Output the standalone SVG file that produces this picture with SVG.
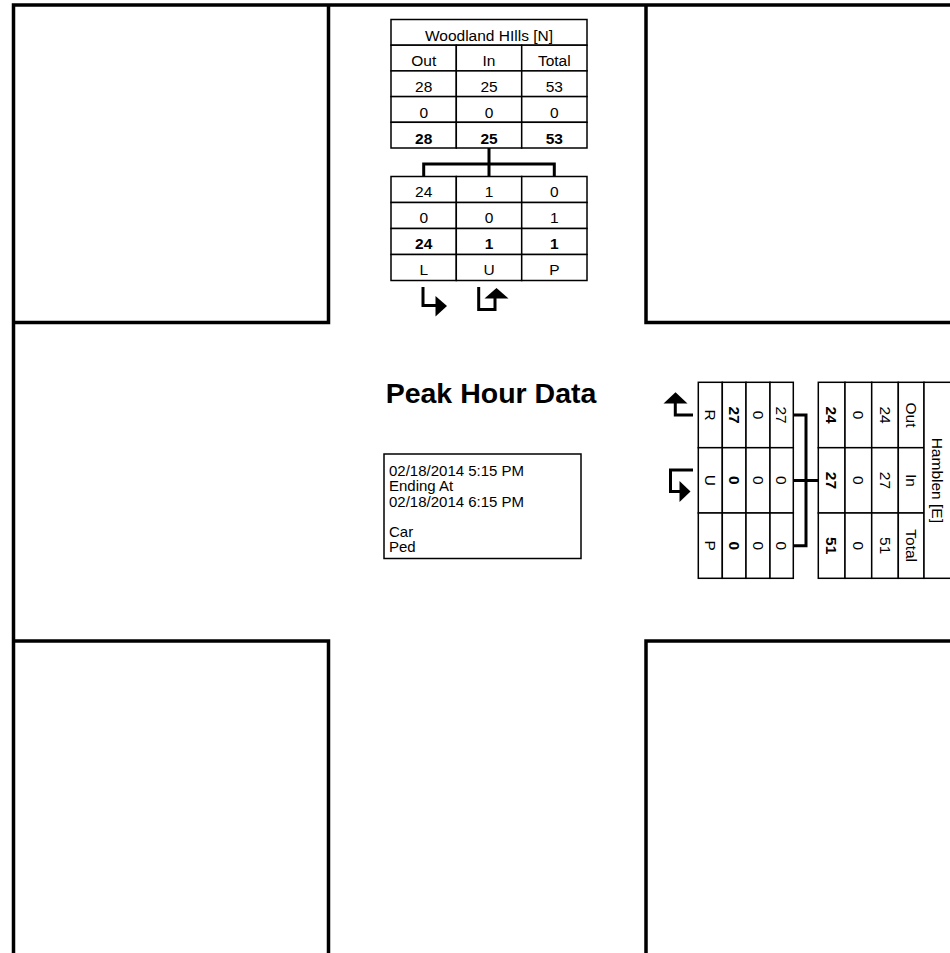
<svg xmlns="http://www.w3.org/2000/svg" width="950" height="953" viewBox="0 0 950 953">
<style>
.frame{fill:none;stroke:#000;stroke-width:3.5}
.cell{fill:#fff;stroke:#000;stroke-width:1.5}
.conn{fill:none;stroke:#000;stroke-width:3}
.t{font-family:"Liberation Sans",Arial,sans-serif;font-size:15.5px;fill:#000;text-anchor:middle}
.b{font-weight:bold}
.info{font-family:"Liberation Sans",Arial,sans-serif;font-size:15px;fill:#000}
.title{font-family:"Liberation Sans",Arial,sans-serif;font-size:28.5px;font-weight:bold;fill:#000;text-anchor:middle}
</style>
<rect width="950" height="953" fill="#fff"/>
<g id="blocks">
<path class="frame" d="M13.5,953 V5 H955" stroke-width="4"/>
<path class="frame" d="M13.5,322.5 H328.5 V5"/>
<path class="frame" d="M646,5 V322.5 H955"/>
<path class="frame" d="M13.5,641 H328.5 V953"/>
<path class="frame" d="M955,641 H646 V953"/>
</g>
<g id="north-approach">
<rect class="cell" x="391" y="19.5" width="196" height="25.7"/>
<g class="cell">
<rect x="391" y="45.2" width="65.3" height="25.7"/><rect x="456.3" y="45.2" width="65.4" height="25.7"/><rect x="521.7" y="45.2" width="65.3" height="25.7"/>
<rect x="391" y="70.9" width="65.3" height="25.7"/><rect x="456.3" y="70.9" width="65.4" height="25.7"/><rect x="521.7" y="70.9" width="65.3" height="25.7"/>
<rect x="391" y="96.6" width="65.3" height="25.7"/><rect x="456.3" y="96.6" width="65.4" height="25.7"/><rect x="521.7" y="96.6" width="65.3" height="25.7"/>
<rect x="391" y="122.3" width="65.3" height="25.7"/><rect x="456.3" y="122.3" width="65.4" height="25.7"/><rect x="521.7" y="122.3" width="65.3" height="25.7"/>
</g>
<text class="t" x="489" y="40.5">Woodland HIlls [N]</text>
<text class="t" x="423.7" y="66">Out</text><text class="t" x="489" y="66">In</text><text class="t" x="554.3" y="66">Total</text>
<text class="t" x="423.7" y="92">28</text><text class="t" x="489" y="92">25</text><text class="t" x="554.3" y="92">53</text>
<text class="t" x="423.7" y="117.5">0</text><text class="t" x="489" y="117.5">0</text><text class="t" x="554.3" y="117.5">0</text>
<text class="t b" x="423.7" y="143.5">28</text><text class="t b" x="489" y="143.5">25</text><text class="t b" x="554.3" y="143.5">53</text>
</g>
<g id="north-movements">
<g class="cell">
<rect x="391" y="176.5" width="65.3" height="26"/><rect x="456.3" y="176.5" width="65.4" height="26"/><rect x="521.7" y="176.5" width="65.3" height="26"/>
<rect x="391" y="202.5" width="65.3" height="26"/><rect x="456.3" y="202.5" width="65.4" height="26"/><rect x="521.7" y="202.5" width="65.3" height="26"/>
<rect x="391" y="228.5" width="65.3" height="26"/><rect x="456.3" y="228.5" width="65.4" height="26"/><rect x="521.7" y="228.5" width="65.3" height="26"/>
<rect x="391" y="254.5" width="65.3" height="26"/><rect x="456.3" y="254.5" width="65.4" height="26"/><rect x="521.7" y="254.5" width="65.3" height="26"/>
</g>
<text class="t" x="423.7" y="197">24</text><text class="t" x="489" y="197">1</text><text class="t" x="554.3" y="197">0</text>
<text class="t" x="423.7" y="223">0</text><text class="t" x="489" y="223">0</text><text class="t" x="554.3" y="223">1</text>
<text class="t b" x="423.7" y="249">24</text><text class="t b" x="489" y="249">1</text><text class="t b" x="554.3" y="249">1</text>
<text class="t" x="423.7" y="275">L</text><text class="t" x="489" y="275">U</text><text class="t" x="554.3" y="275">P</text>
</g>
<g id="east-movements">
<g class="cell">
<rect x="698.3" y="382.3" width="24" height="65.4"/><rect x="722.3" y="382.3" width="23.7" height="65.4"/><rect x="746" y="382.3" width="24" height="65.4"/><rect x="770" y="382.3" width="23.3" height="65.4"/>
<rect x="698.3" y="447.7" width="24" height="65.3"/><rect x="722.3" y="447.7" width="23.7" height="65.3"/><rect x="746" y="447.7" width="24" height="65.3"/><rect x="770" y="447.7" width="23.3" height="65.3"/>
<rect x="698.3" y="513" width="24" height="65.3"/><rect x="722.3" y="513" width="23.7" height="65.3"/><rect x="746" y="513" width="24" height="65.3"/><rect x="770" y="513" width="23.3" height="65.3"/>
</g>
<text class="t" transform="translate(710.3,415) rotate(90)" y="5.5">R</text>
<text class="t b" transform="translate(734.2,415) rotate(90)" y="5.5">27</text>
<text class="t" transform="translate(758,415) rotate(90)" y="5.5">0</text>
<text class="t" transform="translate(781.7,415) rotate(90)" y="5.5">27</text>
<text class="t" transform="translate(710.3,480.4) rotate(90)" y="5.5">U</text>
<text class="t b" transform="translate(734.2,480.4) rotate(90)" y="5.5">0</text>
<text class="t" transform="translate(758,480.4) rotate(90)" y="5.5">0</text>
<text class="t" transform="translate(781.7,480.4) rotate(90)" y="5.5">0</text>
<text class="t" transform="translate(710.3,545.7) rotate(90)" y="5.5">P</text>
<text class="t b" transform="translate(734.2,545.7) rotate(90)" y="5.5">0</text>
<text class="t" transform="translate(758,545.7) rotate(90)" y="5.5">0</text>
<text class="t" transform="translate(781.7,545.7) rotate(90)" y="5.5">0</text>
</g>
<g id="east-approach">
<g class="cell">
<rect x="818.3" y="382.3" width="26.7" height="65.4"/><rect x="845" y="382.3" width="26.7" height="65.4"/><rect x="871.7" y="382.3" width="26.6" height="65.4"/><rect x="898.3" y="382.3" width="25.7" height="65.4"/>
<rect x="818.3" y="447.7" width="26.7" height="65.3"/><rect x="845" y="447.7" width="26.7" height="65.3"/><rect x="871.7" y="447.7" width="26.6" height="65.3"/><rect x="898.3" y="447.7" width="25.7" height="65.3"/>
<rect x="818.3" y="513" width="26.7" height="65.3"/><rect x="845" y="513" width="26.7" height="65.3"/><rect x="871.7" y="513" width="26.6" height="65.3"/><rect x="898.3" y="513" width="25.7" height="65.3"/>
<rect x="924" y="382.3" width="30" height="196"/>
</g>
<text class="t b" transform="translate(831.7,415) rotate(90)" y="5.5">24</text>
<text class="t" transform="translate(858.3,415) rotate(90)" y="5.5">0</text>
<text class="t" transform="translate(885,415) rotate(90)" y="5.5">24</text>
<text class="t" transform="translate(911.2,415) rotate(90)" y="5.5">Out</text>
<text class="t b" transform="translate(831.7,480.4) rotate(90)" y="5.5">27</text>
<text class="t" transform="translate(858.3,480.4) rotate(90)" y="5.5">0</text>
<text class="t" transform="translate(885,480.4) rotate(90)" y="5.5">27</text>
<text class="t" transform="translate(911.2,480.4) rotate(90)" y="5.5">In</text>
<text class="t b" transform="translate(831.7,545.7) rotate(90)" y="5.5">51</text>
<text class="t" transform="translate(858.3,545.7) rotate(90)" y="5.5">0</text>
<text class="t" transform="translate(885,545.7) rotate(90)" y="5.5">51</text>
<text class="t" transform="translate(911.2,545.7) rotate(90)" y="5.5">Total</text>
<text class="t" transform="translate(937,480.3) rotate(90)" y="5.5">Hamblen [E]</text>
</g>
<g id="connectors">
<path class="conn" d="M489,148 V164 M423.7,176.5 V164 H554.3 V176.5 M489,164 V176.5"/>
<path class="conn" d="M793.3,415 H806 V545.7 H793.3 M793.3,480.4 H818.3"/>
</g>
<g id="north-arrows">
<path class="conn" d="M423,287 V305.5 H437"/>
<polygon points="435.5,296 447,306 435.5,316.5"/>
<path class="conn" d="M478.7,287 V309.5 H495 V297"/>
<polygon points="484.5,298.5 496.5,288 508.5,298.5"/>
</g>
<g id="east-arrows">
<path class="conn" d="M693,415 H675.3 V402"/>
<polygon points="663.5,403.5 675.5,392.3 687.5,403.5"/>
<path class="conn" d="M693,470 H670.5 V491.5 H681"/>
<polygon points="679.5,481 690.5,491.5 679.5,502"/>
</g>
<g id="title">
<text class="title" x="491" y="403">Peak Hour Data</text>
</g>
<g id="info">
<rect x="384" y="454" width="197" height="104.5" fill="#fff" stroke="#000" stroke-width="1.5"/>
<text class="info"><tspan x="389" y="476">02/18/2014 5:15 PM</tspan><tspan x="389" y="491">Ending At</tspan><tspan x="389" y="506.5">02/18/2014 6:15 PM</tspan><tspan x="389" y="537">Car</tspan><tspan x="389" y="552">Ped</tspan></text>
</g>
</svg>
